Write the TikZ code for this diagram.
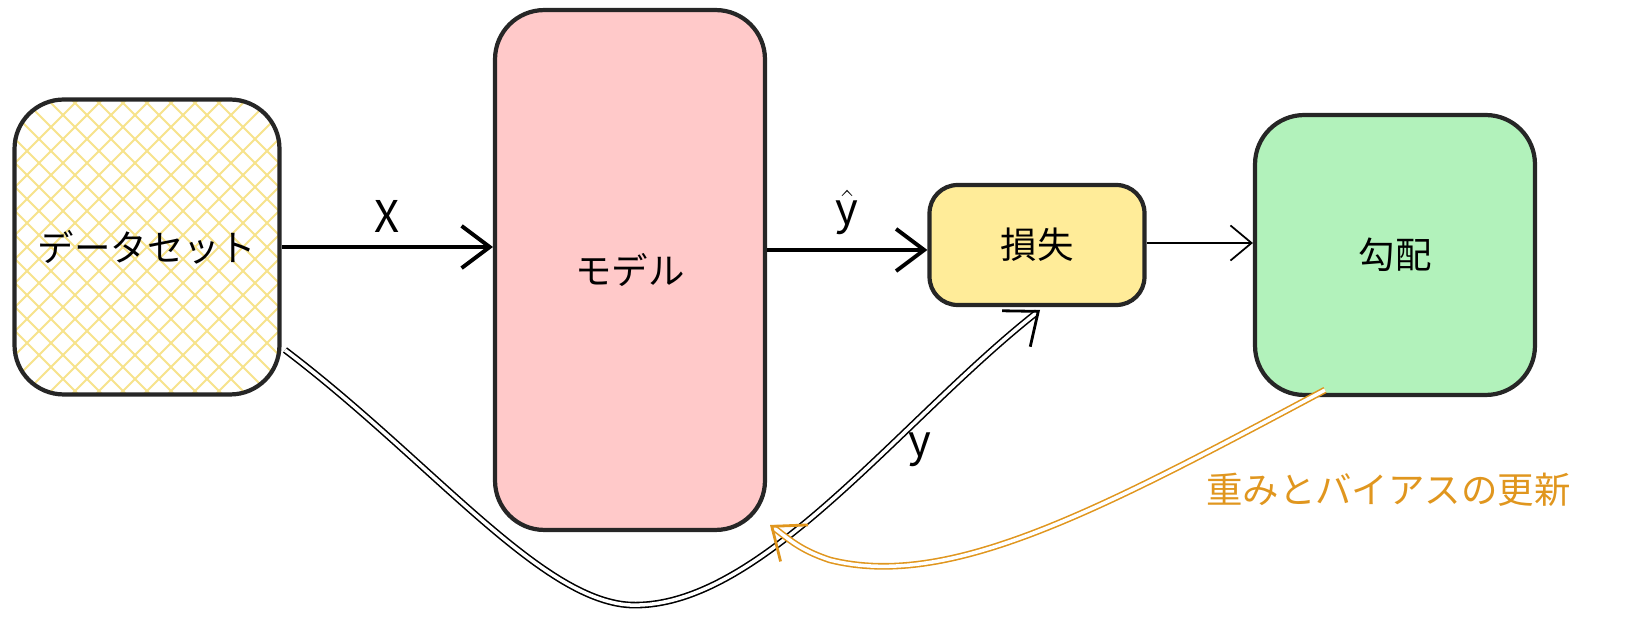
\documentclass[tikz,border=0pt]{standalone}
\usepackage{fontspec}
\setmainfont{Noto Sans CJK JP}
\setsansfont{Noto Sans CJK JP}
\usetikzlibrary{positioning,arrows.meta}
\definecolor{pinkfill}{HTML}{FFC9C9}
\definecolor{lossfill}{HTML}{FFEC99}
\definecolor{gradfill}{HTML}{B2F2BB}
\definecolor{hatchy}{HTML}{F7E38C}
\definecolor{upd}{HTML}{E0961E}
\tikzset{
  blk/.style={draw=black!85, line width=2.4pt, rounded corners=28pt, inner sep=0pt, font=\huge},
  hatched/.style={path picture={
    \foreach \k in {-9,...,9}{
      \draw[hatchy, line width=1.2pt] ([shift={(\k*24-200,200)}]path picture bounding box.center) -- ++(400,-400);
      \draw[hatchy, line width=1.2pt] ([shift={(\k*24-200,-200)}]path picture bounding box.center) -- ++(400,400);
    }}},
  flow/.style={-{Straight Barb[length=16pt,width=24pt]}, line width=2.2pt},
  dbl/.style={-{Straight Barb[length=16pt,width=26pt,line width=1.6pt]}, double, double distance=2pt, line width=0.9pt},
  lbl/.style={font=\Huge\sffamily},
}
\begin{document}
\begin{tikzpicture}[x=0.02cm,y=-0.02cm,>=stealth]
\useasboundingbox (0,0) rectangle (1647,624);
% boxes
\node[blk, fill=white, hatched, minimum width=5.3cm, minimum height=5.9cm] (data) at (147,247) {データセット};
\node[blk, fill=pinkfill, minimum width=5.4cm, minimum height=10.4cm] (model) at (630,270) {モデル};
\node[blk, fill=lossfill, rounded corners=16pt, minimum width=4.3cm, minimum height=2.4cm] (loss) at (1037,245) {損失};
\node[blk, fill=gradfill, minimum width=5.6cm, minimum height=5.6cm] (grad) at (1395,255) {勾配};
% arrows
\draw[flow] (data.east |- 0,247) -- (model.west |- 0,247) node[midway, above=4pt, lbl] (lx) {X};
\draw[flow] (model.east |- 0,250) -- (loss.west |- 0,250) node[midway, above=4pt, lbl] (lyh) {$\hat{\mathsf{y}}$};
\draw[-{Straight Barb[length=12pt,width=20pt]}, line width=1pt] (loss.east |- 0,243) -- (grad.west |- 0,243);
\coordinate (dstart) at (285,350);
\draw[dbl] (dstart) .. controls (430,460) and (540,600) .. (630,605)
  .. controls (760,610) and (900,420) .. (1040,310);
\node[lbl] (ly) at (920,450) {y};
\coordinate (gstart) at (1325,390);
\draw[dbl, draw=upd] (gstart) .. controls (1100,510) and (950,590) .. (830,560)
  .. controls (800,550) and (790,540) .. (770,525);
\node[font=\huge, text=upd, anchor=west] (lupd) at (1200,490) {重みとバイアスの更新};
\end{tikzpicture}
\end{document}
